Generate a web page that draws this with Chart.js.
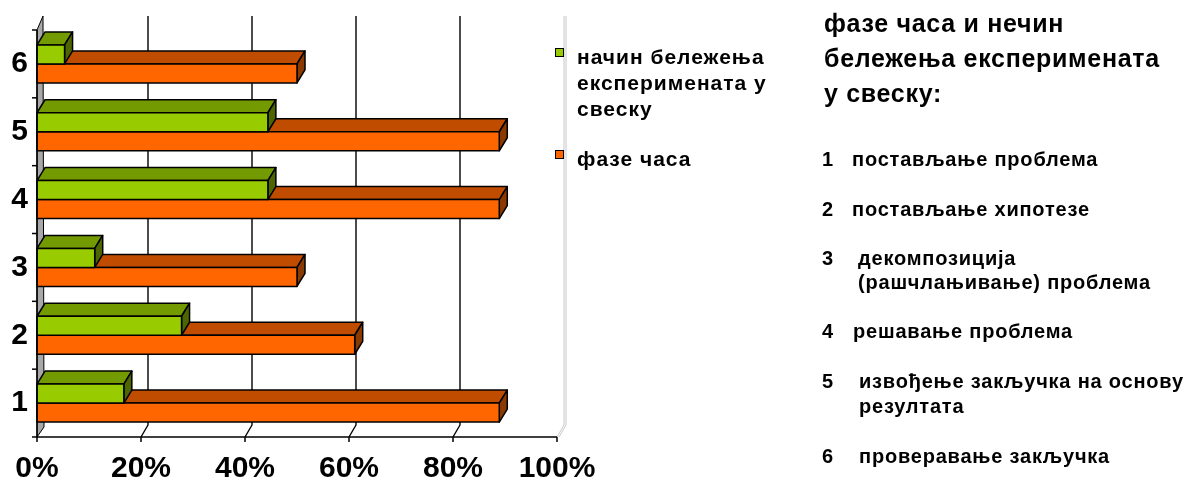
<!DOCTYPE html>
<html>
<head>
<meta charset="utf-8">
<script src="https://cdn.jsdelivr.net/npm/chart.js@4"></script>
<style>
  body { margin: 0; background: #fff; }
  #wrap { position: relative; width: 1186px; height: 481px; font-family: "Liberation Sans", Arial, sans-serif; font-weight: 700; color: #000; }
  #wrap canvas { position: absolute; left: 0; top: 0; }
  .abs { position: absolute; white-space: nowrap; font-weight: 700; }
  .leg { font-size: 21px; letter-spacing: 1px; line-height: 26px; left: 577px; }
  .sq { position: absolute; width: 7px; height: 7px; border: 1.5px solid #000; left: 555px; }
  .title { font-size: 25px; letter-spacing: 0.7px; line-height: 35px; left: 824px; top: 6px; }
  .item { font-size: 20px; letter-spacing: 0.8px; line-height: 20px; }
</style>
</head>
<body>
<div id="wrap">
  <canvas id="chart" width="1186" height="481"></canvas>

  <div class="sq" style="top:48px; background:#99cc00"></div>
  <div class="abs leg" style="top:44px">начин бележења<br>експеримената у<br>свеску</div>
  <div class="sq" style="top:150px; background:#ff6600"></div>
  <div class="abs leg" style="top:146px">фазе часа</div>

  <div class="abs title">фазе часа и нечин<br>бележења експеримената<br>у свеску:</div>
  <div id="list"></div>
</div>

<script>
// categories 1..6 (bottom to top)
const categories = ['1', '2', '3', '4', '5', '6'];
// начин бележења експеримената у свеску (%)
const notesValues = [16.7, 27.8, 11.1, 44.4, 44.4, 5.3];
// фазе часа (%)
const phaseValues = [88.9, 61.1, 50, 88.9, 88.9, 50];
const seriesNames = ['начин бележења експеримената у свеску', 'фазе часа'];
const xTicks = [0, 20, 40, 60, 80, 100];

// explanation list on the right
const listNums = ['1', '2', '3', '', '4', '5', '', '6'];
const listTexts = [
  'постављање проблема',
  'постављање хипотезе',
  'декомпозиција',
  '(рашчлањивање) проблема',
  'решавање проблема',
  'извођење закључка на основу',
  'резултата',
  'проверавање закључка'
];
const listTops = [149, 199, 248, 272, 321, 371, 396, 446];
const listLefts = [852, 852, 858, 858, 853, 859, 859, 859];

const list = document.getElementById('list');
listTexts.forEach((t, i) => {
  if (listNums[i]) {
    const n = document.createElement('div');
    n.className = 'abs item';
    n.style.left = '822px';
    n.style.top = listTops[i] + 'px';
    n.textContent = listNums[i];
    list.appendChild(n);
  }
  const d = document.createElement('div');
  d.className = 'abs item';
  d.style.left = listLefts[i] + 'px';
  d.style.top = listTops[i] + 'px';
  d.textContent = t;
  list.appendChild(d);
});

const faces = [
  { front: '#99cc00', top: '#739a00', side: '#4d6600' },
  { front: '#ff6600', top: '#c04c00', side: '#8a3a00' }
];

function poly(ctx, pts, fill) {
  ctx.beginPath();
  ctx.moveTo(pts[0][0], pts[0][1]);
  for (let i = 1; i < pts.length; i++) ctx.lineTo(pts[i][0], pts[i][1]);
  ctx.closePath();
  ctx.fillStyle = fill;
  ctx.fill();
  ctx.stroke();
}

// 3D look: walls, floor, gridlines and boxes
const box3d = {
  id: 'box3d',
  beforeDatasetsDraw(chart) {
    const ctx = chart.ctx;
    const xs = chart.scales.x;
    const { left, top, bottom } = chart.chartArea;
    ctx.save();
    ctx.lineJoin = 'round';

    // left wall
    ctx.strokeStyle = '#000';
    ctx.lineWidth = 1;
    poly(ctx, [[left, top], [left + 6, top - 14], [left + 7, bottom - 10], [left, bottom]], '#a8a8a8');

    // back grid lines + floor marks
    xTicks.forEach(v => {
      if (v === 0) return;
      const x = xs.getPixelForValue(v);
      const last = v === 100;
      ctx.strokeStyle = last ? '#c8c8c8' : '#000';
      ctx.lineWidth = last ? 1 : 1.4;
      ctx.beginPath();
      ctx.moveTo(x + 7, top - 14);
      ctx.lineTo(x + 7, bottom - 12);
      ctx.lineTo(x, bottom);
      ctx.stroke();
      if (last) {
        ctx.beginPath();
        ctx.moveTo(x + 9, top - 14);
        ctx.lineTo(x + 9, bottom - 12);
        ctx.lineTo(x + 2, bottom);
        ctx.stroke();
      }
    });
    ctx.restore();
  },
  afterDatasetsDraw(chart) {
    const ctx = chart.ctx;
    const { left, top, bottom } = chart.chartArea;
    const xs = chart.scales.x;
    const dx = 8, dy = -13;
    ctx.save();
    ctx.strokeStyle = '#000';
    ctx.lineWidth = 1.5;
    ctx.lineJoin = 'round';
    const n = chart.data.labels.length;
    for (let j = n - 1; j >= 0; j--) {
      for (let i = chart.data.datasets.length - 1; i >= 0; i--) {
        const el = chart.getDatasetMeta(i).data[j];
        const x0 = el.base, x1 = el.x;
        const y0 = el.y - el.height / 2, y1 = el.y + el.height / 2;
        const f = faces[i];
        poly(ctx, [[x0, y0], [x0 + dx, y0 + dy], [x1 + dx, y0 + dy], [x1, y0]], f.top);
        poly(ctx, [[x1, y0], [x1 + dx, y0 + dy], [x1 + dx, y1 + dy], [x1, y1]], f.side);
        poly(ctx, [[x0, y0], [x1, y0], [x1, y1], [x0, y1]], f.front);
      }
    }

    // front axes
    ctx.lineWidth = 1.5;
    ctx.beginPath();
    ctx.moveTo(left, top);
    ctx.lineTo(left, bottom);
    ctx.lineTo(xs.getPixelForValue(100), bottom);
    ctx.stroke();
    xTicks.forEach(v => {
      const x = xs.getPixelForValue(v);
      ctx.beginPath();
      ctx.moveTo(x, bottom);
      ctx.lineTo(x, bottom + 5);
      ctx.stroke();
    });
    const band = (bottom - top) / n;
    for (let k = 0; k <= n; k++) {
      const y = top + band * k;
      ctx.beginPath();
      ctx.moveTo(left - 5, y);
      ctx.lineTo(left, y);
      ctx.stroke();
    }
    ctx.restore();
  }
};

const family = '"Liberation Sans", Arial, sans-serif';

new Chart(document.getElementById('chart'), {
  type: 'bar',
  data: {
    labels: categories,
    datasets: [
      { label: seriesNames[0], data: notesValues, backgroundColor: 'rgba(0,0,0,0)', borderWidth: 0 },
      { label: seriesNames[1], data: phaseValues, backgroundColor: 'rgba(0,0,0,0)', borderWidth: 0 }
    ]
  },
  options: {
    indexAxis: 'y',
    responsive: false,
    animation: false,
    categoryPercentage: 0.56,
    barPercentage: 1,
    layout: { padding: { top: 30, right: 629, left: 0, bottom: 0 } },
    plugins: { legend: { display: false }, tooltip: { enabled: false } },
    scales: {
      x: {
        min: 0, max: 100,
        afterFit: s => { s.height = 44; },
        afterBuildTicks: s => { s.ticks = xTicks.map(v => ({ value: v })); },
        grid: { display: false, drawTicks: false },
        border: { display: false },
        ticks: { font: { family, size: 30, weight: 'bold' }, color: '#000', padding: 14, callback: v => v + '%', maxRotation: 0 }
      },
      y: {
        reverse: true,
        afterFit: s => { s.width = 37; },
        grid: { display: false, drawTicks: false },
        border: { display: false },
        ticks: { font: { family, size: 30, weight: 'bold' }, color: '#000', padding: 9 }
      }
    }
  },
  plugins: [box3d]
});
</script>
</body>
</html>
